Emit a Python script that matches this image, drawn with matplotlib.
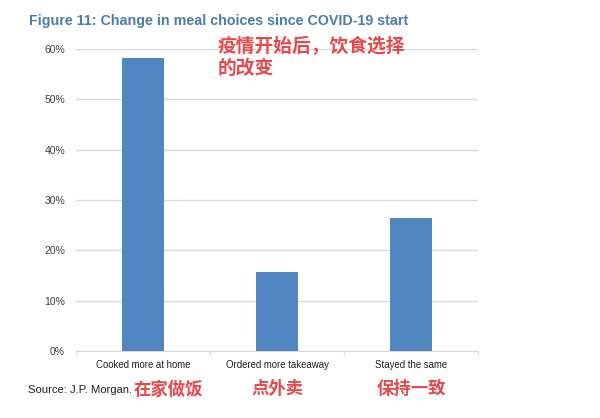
import matplotlib.pyplot as plt
from matplotlib.ticker import PercentFormatter

# データ
categories = ['Cooked more at home', 'Ordered more takeaway', 'Stayed the same']
categories_cn = ['在家做饭', '点外卖', '保持一致']
values = [58.2, 15.7, 26.4]
yticks = [0, 10, 20, 30, 40, 50, 60]

narrow = ['Liberation Sans Narrow', 'Liberation Sans', 'DejaVu Sans']
cjk = ['Noto Sans CJK SC', 'DejaVu Sans']
red = '#e8474c'

fig = plt.figure(figsize=(6, 4.18), dpi=100)
ax = fig.add_axes([0.127, 0.160, 0.67, 0.723])

x = range(len(categories))
ax.bar(x, values, width=0.31, color='#4f86c0', zorder=3)
ax.set_xlim(-0.5, len(categories) - 0.5)
ax.set_ylim(0, 60)
ax.set_yticks(yticks)
ax.yaxis.set_major_formatter(PercentFormatter(decimals=0))
ax.grid(axis='y', color='#d9d9d9', linewidth=1, zorder=0)
for s in ['top', 'right', 'left']:
    ax.spines[s].set_visible(False)
ax.spines['bottom'].set_color('#d9d9d9')
ax.tick_params(axis='y', length=0, labelsize=7.5, labelcolor='#404040', pad=8)
for lab in ax.get_yticklabels():
    lab.set_family(narrow)

# x軸：カテゴリ境界に小さい目盛り
ax.set_xticks([-0.5, 0.5, 1.5, 2.5])
ax.set_xticklabels([])
ax.tick_params(axis='x', length=3, color='#d9d9d9')
for i, c in enumerate(categories):
    ax.text(i, -1.8, c, ha='center', va='top', fontsize=6.9, color='#202020',
            family=narrow, clip_on=False)

# 中国語ラベル（1つ目は Source の直後）
fig.text(0.223, 0.068, categories_cn[0], ha='left', va='center', fontsize=12.5,
         color=red, family=cjk, fontweight='bold')
for i in (1, 2):
    ax.text(i, -7.6, categories_cn[i], ha='center', va='center', fontsize=12.5,
            color=red, family=cjk, fontweight='bold', clip_on=False)

fig.text(0.048, 0.950, 'Figure 11: Change in meal choices since COVID-19 start',
         fontsize=10.3, fontweight='bold', color='#4a7ea6', family=narrow, va='center')
fig.text(0.362, 0.910, '疫情开始后，饮食选择\n的改变', fontsize=13.5, color=red,
         family=cjk, fontweight='bold', linespacing=1.15, va='top')
fig.text(0.046, 0.068, 'Source: J.P. Morgan.', fontsize=8.1, color='#202020',
         family=narrow, va='center')

fig.savefig('out.png')
